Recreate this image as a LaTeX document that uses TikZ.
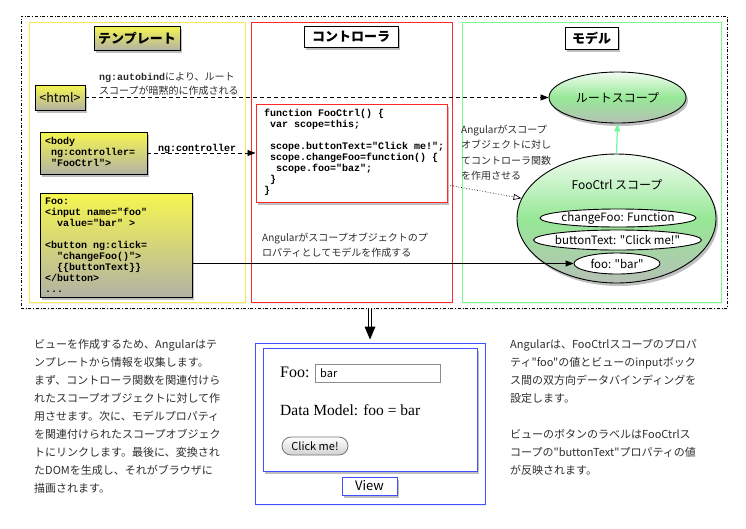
\documentclass[tikz,border=0pt]{standalone}
\usepackage{fontspec}
\setmainfont{Noto Sans CJK JP}
\newfontfamily\jpfont{Noto Sans CJK JP}
\newfontfamily\codefont{Liberation Mono}
\newfontfamily\viewserif{Liberation Serif}
\usetikzlibrary{shadows,arrows.meta,shapes.geometric,calc}
\definecolor{ylw}{RGB}{250,232,80}
\definecolor{ytop}{RGB}{246,246,80}
\definecolor{ybot}{RGB}{178,178,165}
\definecolor{redb}{RGB}{255,40,40}
\definecolor{grnb}{RGB}{125,250,140}
\definecolor{blueb}{RGB}{64,80,255}
\definecolor{gtop}{RGB}{242,252,242}
\definecolor{gmid}{RGB}{150,232,150}
\definecolor{gbot}{RGB}{182,192,182}
\definecolor{arrowgreen}{RGB}{120,245,160}
\definecolor{txt}{RGB}{45,45,45}
\begin{document}
\jpfont
\begin{tikzpicture}[x=1pt,y=-1pt,
  every node/.append style={font=\jpfont},
  dshadow/.style={drop shadow={shadow xshift=2pt,shadow yshift=-3pt,opacity=0.5}},
  lightshadow/.style={drop shadow={shadow xshift=1pt,shadow yshift=-2pt,opacity=0.12}},
  region/.style={draw, line width=0.8pt, fill=white, inner sep=0pt, lightshadow},
  titlebox/.style={draw=black, line width=1pt, inner sep=0pt, dshadow, font=\jpfont\bfseries\fontsize{13}{15}\selectfont},
  ybox/.style={draw=black, line width=0.9pt, top color=ytop, bottom color=ybot, dshadow, inner sep=0pt},
  code/.style={font=\codefont\bfseries\fontsize{10}{11}\selectfont, align=left, inner sep=0pt, anchor=north west},
  note/.style={font=\jpfont\fontsize{10}{15}\selectfont, align=left, inner sep=0pt, anchor=north west, text=txt},
  para/.style={font=\jpfont\fontsize{11}{18}\selectfont, align=left, inner sep=0pt, anchor=north west, text=txt},
  scopeell/.style={ellipse, draw=black, line width=0.9pt, top color=gtop, bottom color=gbot, middle color=gmid, dshadow, inner sep=0pt},
  prop/.style={ellipse, draw=black, line width=0.9pt, fill=white, inner sep=0pt},
  proptext/.style={inner sep=0pt, font=\jpfont\fontsize{11.5}{13}\selectfont},
  tip/.style={-{Triangle[length=8pt,width=6pt]}},
]
\useasboundingbox (0,0) rectangle (746,528);

% outer frame
\node[draw, dash dot, line width=0.7pt, fill=white, lightshadow, minimum width=706pt, minimum height=292pt, inner sep=0pt] (outer) at (374,162) {};

% regions
\node[region, draw=ylw, minimum width=216pt, minimum height=280pt] (tmpl) at (137,162) {};
\node[region, draw=redb, minimum width=201pt, minimum height=280pt] (ctrl) at (351.5,162) {};
\node[region, draw=grnb, minimum width=259pt, minimum height=280pt] (model) at (591.5,162) {};

% titles
\node[titlebox, top color=ytop, bottom color=ybot, minimum width=86pt, minimum height=24pt] (tmpltitle) at (137,38) {テンプレート};
\node[titlebox, fill=white, minimum width=94pt, minimum height=21pt] (ctrltitle) at (351,36.5) {コントローラ};
\node[titlebox, fill=white, minimum width=53pt, minimum height=22pt] (modeltitle) at (591.5,38) {モデル};

% template boxes
\node[ybox, minimum width=50pt, minimum height=25pt, font=\jpfont\fontsize{12.5}{14}\selectfont] (html) at (60,97.5) {<html>};
\node[ybox, minimum width=107pt, minimum height=42pt] (body) at (93.5,153) {};
\node[code] (bodytext) at (45,137) {<body\\~ng:controller=\\~"FooCtrl">};
\node[ybox, minimum width=152pt, minimum height=104pt] (foobox) at (116,245) {};
\node[code] (footext) at (45,198) {Foo:\\<input name="foo"\\~~value="bar" >\\~\\<button ng:click=\\~~"changeFoo()">\\~~\{\{buttonText\}\}\\</button>\\...};

% controller box
\node[draw=redb, line width=1pt, fill=white, dshadow, minimum width=191pt, minimum height=98pt, inner sep=0pt] (ctrlbox) at (351.5,153) {};
\node[code] (ctrlcode) at (264,109) {function FooCtrl() \{\\~var scope=this;\\~\\~scope.buttonText="Click me!";\\~scope.changeFoo=function() \{\\~~scope.foo="baz";\\~\}\\\}};

% model
\node[scopeell, minimum width=137pt, minimum height=51pt] (root) at (617.5,97.5) {};
\node[proptext, font=\jpfont\fontsize{12}{14}\selectfont] (roottext) at (root.center) {ルートスコープ};
\node[scopeell, minimum width=199pt, minimum height=129pt] (scope) at (616.5,218.5) {};
\node[proptext, font=\jpfont\fontsize{12}{14}\selectfont] (scopelabel) at (617,185) {FooCtrl スコープ};
\node[prop, minimum width=156pt, minimum height=18pt] (changefoo) at (618,218) {};
\node[proptext] (changefootext) at (changefoo.center) {changeFoo: Function};
\node[prop, minimum width=168pt, minimum height=20pt] (buttontext) at (617.5,240) {};
\node[proptext] (buttontexttext) at (buttontext.center) {buttonText: "Click me!"};
\node[prop, minimum width=86pt, minimum height=21pt] (fooval) at (617,263.5) {};
\node[proptext] (foovaltext) at (fooval.center) {foo: "bar"};

% notes
\node[note, font=\jpfont\fontsize{10}{14}\selectfont] (autobindnote) at (99,72) {{\codefont\bfseries ng:autobind}により、ルート\\スコープが暗黙的に作成される};
\node[inner sep=0pt, anchor=base west, font=\codefont\bfseries\fontsize{10}{11}\selectfont] (ngctrl) at (158,151.5) {ng:controller};
\node[note, font=\jpfont\fontsize{10}{15.3}\selectfont] (applynote) at (461,125) {Angularがスコープ\\オブジェクトに対し\\てコントローラ関数\\を作用させる};
\node[note] (modelnote) at (262,233) {Angularがスコープオブジェクトのプ\\ロパティとしてモデルを作成する};

% connectors
\draw[dash pattern=on 4pt off 3pt, line width=0.8pt, tip] (html.east) -- (root.west);
\draw[dash pattern=on 4pt off 3pt, line width=0.8pt, tip] (body.east) -- (ctrlbox.west);
\draw[arrowgreen, line width=1.2pt, tip] (scope.north) -- (root.south);
\draw[dotted, line width=0.7pt, -{Triangle[open,length=8pt,width=6pt]}] ($(ctrlbox.south east)+(3,-17)$) -- (scope.168);
\draw[line width=0.9pt, tip] (foobox.east |- fooval.west) -- (fooval.west);

% view
\node[draw=blueb, line width=0.9pt, fill=white, lightshadow, minimum width=230pt, minimum height=161pt, inner sep=0pt] (viewout) at (370,423.5) {};
\node[draw=blueb, line width=1pt, fill=white, dshadow, minimum width=214pt, minimum height=123pt, inner sep=0pt] (viewin) at (370,409.5) {};
\node[inner sep=0pt, anchor=west, font=\viewserif\fontsize{16}{18}\selectfont] (foolbl) at (280,372) {Foo:};
\node[draw=black!45, line width=0.8pt, fill=white, minimum width=125pt, minimum height=18pt, inner sep=0pt] (inputbox) at (377.5,373) {};
\node[inner sep=0pt, anchor=west, font=\jpfont\fontsize{11}{13}\selectfont] (inputval) at (320,373.5) {bar};
\node[inner sep=0pt, anchor=west, font=\viewserif\fontsize{15.5}{18}\selectfont] (datamodel) at (280,410) {Data Model: foo = bar};
\node[draw=black!55, line width=0.8pt, rounded corners=9pt, top color=white, bottom color=black!18, minimum width=66pt, minimum height=18pt, inner sep=0pt, font=\jpfont\fontsize{11}{13}\selectfont] (clickbtn) at (315,446) {Click me!};
\node[draw=blueb, line width=0.9pt, fill=white, dshadow, minimum width=55pt, minimum height=18pt, inner sep=0pt, font=\jpfont\fontsize{13}{15}\selectfont] (viewlbl) at (369.5,486) {View};

% double arrow to view
\draw[double distance=2.2pt, line width=0.7pt] (outer.south -| viewout.north) -- ($(viewout.north)+(0,-16)$) coordinate (shaftend);
\fill ($(shaftend)+(-5.5,0)$) -- ($(shaftend)+(5.5,0)$) -- ($(viewout.north)+(0,-3)$) -- cycle;

% paragraphs
\node[para] (leftpara) at (34,339) {ビューを作成するため、Angularはテ\\ンプレートから情報を収集します。\\まず、コントローラ関数を関連付けら\\れたスコープオブジェクトに対して作\\用させます。次に、モデルプロパティ\\を関連付けられたスコープオブジェク\\トにリンクします。最後に、変換され\\たDOMを生成し、それがブラウザに\\描画されます。};
\node[para] (rightpara) at (510,339) {Angularは、FooCtrlスコープのプロパ\\ティ"foo"の値とビューのinputボック\\ス間の双方向データバインディングを\\設定します。\\~\\ビューのボタンのラベルはFooCtrlス\\コープの"buttonText"プロパティの値\\が反映されます。};
\end{tikzpicture}
\end{document}
